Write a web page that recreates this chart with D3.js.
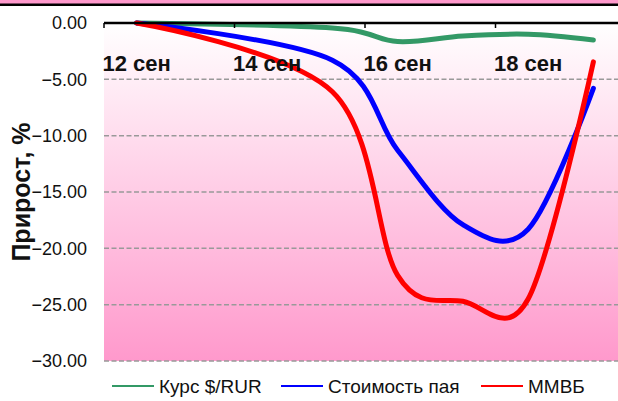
<!DOCTYPE html>
<html>
<head>
<meta charset="utf-8">
<script src="https://cdn.jsdelivr.net/npm/d3@7"></script>
<style>
  body { margin: 0; background: #fff; }
  svg { display: block; font-family: "Liberation Sans", Arial, sans-serif; }
</style>
</head>
<body>
<div id="chart"></div>
<script>
// trading days of September 2008 (weekend 13-14 has no data), % change
const tradeDays = [12, 15, 16, 17, 18, 19];
const usdRub = [0, -0.45, -1.65, -1.15, -1.0, -1.5];
const fundValue = [0, -3.3, -11.3, -17.9, -18.3, -5.8];
const micex = [0, -6.1, -22.4, -24.7, -24.5, -3.45];
const tickDays = [12, 14, 16, 18];
const tickLabels = ['12 сен', '14 сен', '16 сен', '18 сен'];
const yTicks = [0, -5, -10, -15, -20, -25, -30];
const seriesNames = ['Курс $/RUR', 'Стоимость пая', 'ММВБ'];
const seriesColors = ['#339966', '#0000ff', '#ff0000'];

(() => {
  const w = 618;
  const h = 401;
  const plot = { left: 104, top: 23, bottom: 361, right: 626 };
  const day = (d, hour) => new Date(2008, 8, d, hour || 0);

  const svg = d3.select('#chart').append('svg')
    .attr('width', w)
    .attr('height', h);

  // date axis: each day is one slot, points sit at the middle of the day
  const x = d3.scaleTime().domain([day(12), day(20)]).range([plot.left, plot.right]);
  const y = d3.scaleLinear().domain([-30, 0]).range([plot.bottom, plot.top]);

  // top border strip
  svg.append('rect').attr('x', 0).attr('y', 0).attr('width', w).attr('height', 4)
    .attr('fill', '#ff99cc');
  svg.append('line').attr('x1', 0).attr('x2', w).attr('y1', 4.8).attr('y2', 4.8)
    .attr('stroke', '#000').attr('stroke-width', 2.6);

  const grad = svg.append('defs').append('linearGradient')
    .attr('id', 'bg').attr('x1', 0).attr('x2', 0).attr('y1', 0).attr('y2', 1);
  grad.append('stop').attr('offset', '0%').attr('stop-color', '#ffffff');
  grad.append('stop').attr('offset', '100%').attr('stop-color', '#ff99cc');

  svg.append('rect')
    .attr('x', plot.left).attr('y', plot.top)
    .attr('width', plot.right - plot.left).attr('height', plot.bottom - plot.top)
    .attr('fill', 'url(#bg)');

  // dashed gridlines
  svg.append('g').selectAll('line')
    .data(yTicks.filter(v => v !== 0))
    .enter().append('line')
    .attr('x1', plot.left).attr('x2', plot.right)
    .attr('y1', d => y(d)).attr('y2', d => y(d))
    .attr('stroke', '#999')
    .attr('stroke-width', 1.5)
    .attr('stroke-dasharray', '5,2.5');

  // y labels
  svg.append('g').selectAll('text')
    .data(yTicks)
    .enter().append('text')
    .attr('x', 87)
    .attr('y', d => y(d))
    .attr('dy', '0.35em')
    .attr('text-anchor', 'end')
    .attr('font-size', 18)
    .attr('fill', '#111')
    .text(d => d3.format('.2f')(d));

  svg.append('text')
    .attr('transform', `translate(30,${(plot.top + plot.bottom) / 2}) rotate(-90)`)
    .attr('text-anchor', 'middle')
    .attr('font-size', 25)
    .attr('font-weight', 'bold')
    .attr('fill', '#111')
    .text('Прирост, %');

  // series, smoothed like the spreadsheet curve
  const line = d3.line()
    .x((d, i) => x(day(tradeDays[i], 12)))
    .y(d => y(d))
    .curve(d3.curveCardinal);

  [usdRub, fundValue, micex].forEach((s, i) => {
    svg.append('path')
      .datum(s)
      .attr('d', line)
      .attr('fill', 'none')
      .attr('stroke', seriesColors[i])
      .attr('stroke-width', 5)
      .attr('stroke-linecap', 'round')
      .attr('stroke-linejoin', 'round');
  });

  // x axis on the zero line
  svg.append('line')
    .attr('x1', plot.left).attr('x2', w)
    .attr('y1', y(0)).attr('y2', y(0))
    .attr('stroke', '#000').attr('stroke-width', 2.5);

  svg.append('g').selectAll('line')
    .data(tickDays)
    .enter().append('line')
    .attr('x1', d => x(day(d))).attr('x2', d => x(day(d)))
    .attr('y1', y(0)).attr('y2', y(0) + 5)
    .attr('stroke', '#000').attr('stroke-width', 1.5);

  svg.append('g').selectAll('text')
    .data(tickDays)
    .enter().append('text')
    .attr('x', d => x(day(d, 12)))
    .attr('y', 71)
    .attr('text-anchor', 'middle')
    .attr('font-size', 22)
    .attr('font-weight', 'bold')
    .attr('fill', '#111')
    .text((d, i) => tickLabels[i]);

  // legend
  const legendX = [112, 281, 481];
  const legend = svg.append('g').selectAll('g')
    .data(seriesNames)
    .enter().append('g')
    .attr('transform', (d, i) => `translate(${legendX[i]},386)`);
  legend.append('line')
    .attr('x1', 0).attr('x2', 42)
    .attr('stroke', (d, i) => seriesColors[i])
    .attr('stroke-width', 2);
  legend.append('text')
    .attr('x', 47)
    .attr('dy', '0.35em')
    .attr('font-size', 19)
    .attr('fill', '#111')
    .text(d => d);
})();
</script>
</body>
</html>
